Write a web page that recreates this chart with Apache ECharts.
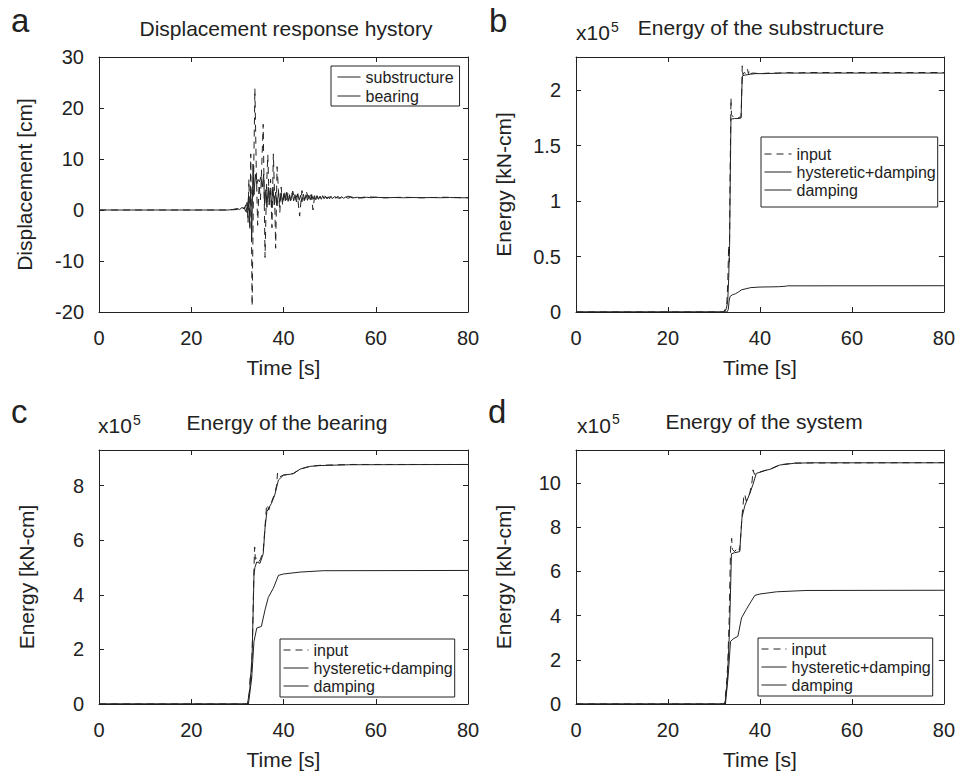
<!DOCTYPE html>
<html><head><meta charset="utf-8">
<script src="https://cdn.jsdelivr.net/npm/echarts@6/dist/echarts.min.js"></script>
<style>html,body{margin:0;padding:0;background:#fff}#c{width:958px;height:776px}</style>
</head><body><div id="c"></div>
<script>
// ---------- DATA (time [s], value) ----------
// Panel a: displacement [cm]
const dispSubstructure = [[0,0],[28,0],[29,0.1],[30,0.3],[30.5,0.1],[31,0.5],[31.5,0.2],[31.8,1.0],[32.1,-0.5],[32.4,2.5],[32.6,-2.5],[32.9,4],[33.1,-5.8],[33.4,9],[33.6,3],[33.9,7],[34.2,5],[34.5,6],[34.8,5.5],[35.1,6.5],[35.4,4.5],[35.7,7],[35.9,1],[36.2,4],[36.4,0.5],[36.7,4.5],[36.9,1.5],[37.2,3.8],[37.4,0.5],[37.7,4.5],[38,1],[38.3,3.5],[38.6,0.8],[38.9,3.5],[39.2,1.5],[39.5,3.4],[39.8,1.5],[40.1,3.2],[40.4,1.8],[40.7,3.5],[41,1.7],[41.3,3],[41.6,1.9],[41.9,3.3],[42.2,1.8],[42.5,3.0],[42.8,1.6],[43.1,3.2],[43.4,1.9],[43.7,2.9],[44,1.6],[44.3,3.1],[44.6,2.0],[44.9,3.0],[45.2,1.9],[45.5,2.9],[45.8,2.0],[46.1,3.0],[46.4,2.1],[46.7,2.8],[47,2.0],[47.3,2.8],[47.6,2.1],[47.9,2.7],[48.2,2.1],[48.5,2.8],[48.8,2.2],[49.1,2.7],[49.4,2.2],[49.7,2.6],[50,2.2],[50.3,2.7],[50.6,2.2],[51,2.6],[51.4,2.3],[51.8,2.7],[52.2,2.3],[52.6,2.6],[53,2.3],[53.5,2.55],[54,2.3],[54.5,2.5],[55,2.35],[56,2.5],[57,2.35],[58,2.5],[59,2.4],[60,2.5],[62,2.4],[64,2.45],[66,2.4],[68,2.45],[70,2.4],[72,2.45],[74,2.4],[76,2.45],[78,2.4],[80,2.4]];
const dispBearing = [[0,0],[28,0],[30,0.1],[31,0.2],[31.5,0.5],[31.8,-0.3],[32.1,1.5],[32.3,-2.5],[32.5,6],[32.7,-4],[32.9,11],[33.2,-18.8],[33.5,5],[33.8,23.8],[34.1,8],[34.4,-3],[34.7,5],[35.0,2],[35.3,9],[35.6,16.8],[36.0,-9.3],[36.3,4],[36.6,10.8],[36.9,1],[37.2,6],[37.5,-3.5],[37.8,11],[38.1,2],[38.3,-7.5],[38.6,8.5],[38.9,4],[39.2,-0.5],[39.5,4.5],[39.8,1.0],[40.2,3.8],[40.6,1.5],[41,3.5],[41.5,1.8],[42,3.7],[42.5,2],[43,3],[43.5,-1.2],[44,3.8],[44.5,1.8],[45,3.5],[45.5,2],[46,3],[46.4,0],[46.8,3.2],[47.5,2.2],[48.5,3],[49.5,2.3],[50.5,2.8],[52,2.3],[54,2.7],[56,2.3],[58,2.6],[62,2.4],[66,2.5],[70,2.4],[75,2.5],[80,2.4]];
// Panel b: substructure energy [x10^5 kN-cm]
const subInput = [[0,0],[32,0],[32.4,0.02],[32.8,0.08],[33.0,0.25],[33.2,0.6],[33.35,0.45],[33.5,1.2],[33.7,1.93],[33.8,1.78],[34.2,1.76],[35,1.75],[35.9,1.76],[36.0,1.9],[36.15,2.22],[36.3,2.14],[36.6,2.16],[37.0,2.15],[37.3,2.19],[37.5,2.15],[37.7,2.18],[37.9,2.15],[38.5,2.155],[40,2.15],[42,2.155],[44,2.155],[46,2.16],[48,2.155],[50,2.16],[80,2.16]];
const subHyst = [[0,0],[32.3,0],[32.7,0.03],[33.0,0.1],[33.2,0.3],[33.4,0.6],[33.55,1.2],[33.7,1.74],[34.5,1.745],[35.5,1.745],[35.9,1.75],[36.05,2.0],[36.2,2.13],[36.6,2.135],[37.2,2.14],[38,2.145],[39,2.15],[41,2.15],[45,2.155],[50,2.155],[80,2.155]];
const subDamp = [[0,0],[32.8,0],[33.1,0.02],[33.3,0.1],[33.5,0.14],[34,0.155],[34.7,0.165],[35.3,0.18],[36,0.2],[37,0.21],[38,0.22],[40,0.225],[44,0.228],[45.5,0.232],[46,0.236],[50,0.236],[80,0.237]];
// Panel c: bearing energy
const brgInput = [[0,0],[32.2,0],[32.6,0.4],[32.8,1.1],[33.0,0.9],[33.3,2.5],[33.6,5.0],[33.75,5.75],[33.9,5.3],[34.2,5.35],[34.6,5.2],[35,5.3],[35.6,5.6],[36.0,6.5],[36.3,7.2],[36.5,7.3],[36.8,7.1],[37.4,7.4],[38.1,7.7],[38.5,8.0],[38.7,8.45],[38.9,8.3],[40,8.38],[42.1,8.44],[43.6,8.6],[45.7,8.7],[47.9,8.74],[54.4,8.77],[80,8.77]];
const brgHyst = [[0,0],[32.2,0],[32.7,0.57],[33.2,1.8],[33.6,4.7],[33.8,5.0],[34.2,5.2],[34.9,5.15],[35.6,5.5],[36.0,6.45],[36.4,7.05],[37.4,7.35],[38.1,7.65],[38.9,8.2],[40.0,8.38],[42.1,8.43],[43.6,8.6],[45.7,8.7],[47.9,8.73],[54.4,8.76],[80,8.77]];
const brgDamp = [[0,0],[32.4,0],[33.1,0.94],[33.6,2.29],[34.2,2.78],[35.2,2.84],[36.0,3.45],[36.7,3.9],[37.8,4.24],[38.9,4.71],[40,4.76],[43.6,4.83],[48.6,4.88],[80,4.89]];
// Panel d: system energy
const sysInput = [[0,0],[32.3,0],[32.7,0.8],[33.0,1.8],[33.3,3.8],[33.6,7.0],[33.85,7.5],[34.0,7.0],[34.5,6.9],[35.2,7.1],[35.6,6.95],[36.1,8.5],[36.5,9.4],[36.7,9.5],[37.0,9.2],[37.8,9.55],[38.3,10.1],[38.5,10.6],[38.8,10.4],[39.2,10.45],[41,10.57],[42.4,10.65],[44.3,10.83],[47.5,10.91],[80,10.93]];
const sysHyst = [[0,0],[32.4,0],[32.9,1.0],[33.4,3.4],[33.8,6.8],[34.5,6.85],[35.6,6.9],[36.1,8.45],[36.7,8.97],[37.8,9.53],[38.5,9.95],[39.2,10.44],[41.0,10.56],[42.4,10.64],[44.3,10.82],[47.5,10.9],[51,10.92],[80,10.92]];
const sysDamp = [[0,0],[32.5,0],[33.1,1.3],[33.6,2.83],[34.2,2.95],[35.2,3.06],[36.0,3.9],[37.0,4.27],[38.1,4.65],[38.9,4.92],[40,4.98],[43.6,5.08],[50,5.14],[80,5.15]];

const panelLetters = ['a','b','c','d'];
const panelTitles = ['Displacement response hystory','Energy of the substructure','Energy of the bearing','Energy of the system'];
const yNames = ['Displacement [cm]','Energy [kN-cm]','Energy [kN-cm]','Energy [kN-cm]'];
const xName = 'Time [s]';
const xRange = [0, 80, 20];             // min, max, interval
const yRanges = [[-20,30,10],[0,2.3,0.5],[0,9.3,2],[0,11.5,2]];
const dispLegend = ['substructure','bearing'];
const energyLegend = ['input','hysteretic+damping','damping'];

// ---------- LAYOUT ----------
const FONT = 'Liberation Sans, Arial, Helvetica, sans-serif';
const INK = '#222';
const grids = [
  {left:99, top:57, width:369, height:255},
  {left:576, top:57, width:370, height:255},
  {left:99, top:450, width:369, height:254},
  {left:576, top:450, width:370, height:254}
];

const xAxes = [], yAxes = [];
grids.forEach((g, i) => {
  const axLine = {show:true, onZero:false, lineStyle:{color:INK, width:1}};
  const tick = {show:true, inside:true, length:5, lineStyle:{color:INK, width:1}};
  xAxes.push({type:'value', gridIndex:i, position:'bottom', min:xRange[0], max:xRange[1], interval:xRange[2],
    axisLine:axLine, axisTick:tick, splitLine:{show:false},
    axisLabel:{color:INK, fontSize:20, fontFamily:FONT, margin:16},
    name:xName, nameLocation:'middle', nameGap:45, nameTextStyle:{color:INK, fontSize:21, fontFamily:FONT}});
  xAxes.push({type:'value', gridIndex:i, position:'top', min:xRange[0], max:xRange[1], interval:xRange[2],
    axisLine:axLine, axisTick:tick, splitLine:{show:false}, axisLabel:{show:false}});
  const yr = yRanges[i];
  yAxes.push({type:'value', gridIndex:i, position:'left', min:yr[0], max:yr[1], interval:yr[2],
    axisLine:axLine, axisTick:tick, splitLine:{show:false},
    axisLabel:{color:INK, fontSize:20, fontFamily:FONT, margin:15, showMaxLabel: (yr[1] % yr[2] === 0)},
    name:yNames[i], nameLocation:'middle', nameGap: i === 0 ? 64 : 62, nameTextStyle:{color:INK, fontSize:21, fontFamily:FONT}});
  yAxes.push({type:'value', gridIndex:i, position:'right', min:yr[0], max:yr[1], interval:yr[2],
    axisLine:axLine, axisTick:tick, splitLine:{show:false}, axisLabel:{show:false}});
});

const DASH = [7,5];
function line(name, data, panel, dashed) {
  return {type:'line', name, data, xAxisIndex:panel*2, yAxisIndex:panel*2,
    symbol:'none', showSymbol:false, animation:false, emphasis:{disabled:true}, silent:true,
    color:INK, itemStyle:{color:INK},
    lineStyle:{color:INK, width:1, type: dashed ? DASH : 'solid'}};
}
const series = [
  line('substructure', dispSubstructure, 0, false),
  line('bearing', dispBearing, 0, true),
  line('input', subInput, 1, true),
  line('hysteretic+damping', subHyst, 1, false),
  line('damping', subDamp, 1, false),
  line('input', brgInput, 2, true),
  line('hysteretic+damping', brgHyst, 2, false),
  line('damping', brgDamp, 2, false),
  line('input', sysInput, 3, true),
  line('hysteretic+damping', sysHyst, 3, false),
  line('damping', sysDamp, 3, false)
];

const legendBase = {orient:'vertical', borderColor:INK, borderWidth:1, borderRadius:0, itemHeight:12,
  selectedMode:false,
  itemStyle:{color:'rgba(0,0,0,0)', borderColor:'rgba(0,0,0,0)', borderWidth:0, opacity:0},
  lineStyle:{color:INK, width:1},
  textStyle:{color:INK, fontSize:16, fontFamily:FONT, lineHeight:16}};
const legends = [
  Object.assign({}, legendBase, {left:331, top:66, padding:[3,6,2,6], itemGap:3, itemWidth:23,
    data:[{name:dispLegend[0]}, {name:dispLegend[1], lineStyle:{type:'solid'}}]}),
  Object.assign({}, legendBase, {left:761, top:137, padding:[9,2,9,3], itemGap:2, itemWidth:27, data:energyLegend.slice()}),
  Object.assign({}, legendBase, {left:280, top:639, padding:[3,2,3,3], itemGap:2, itemWidth:25, data:energyLegend.slice()}),
  Object.assign({}, legendBase, {left:758, top:638, padding:[3,2,3,3], itemGap:2, itemWidth:25, data:energyLegend.slice()})
];

function txt(text, x, y, size, align) {
  return {type:'text', x, y, silent:true,
    style:{text, fontSize:size, fontFamily:FONT, fill:INK, align:align||'left', verticalAlign:'middle'}};
}
const graphic = [
  txt(panelLetters[0], 11, 20.5, 33), txt(panelLetters[1], 489, 20.5, 33),
  txt(panelLetters[2], 11, 411.5, 33), txt(panelLetters[3], 488, 411.5, 33),
  txt(panelTitles[0], 286, 28.6, 21, 'center'), txt(panelTitles[1], 761, 27.6, 21, 'center'),
  txt(panelTitles[2], 287, 422.6, 21, 'center'), txt(panelTitles[3], 764, 421.4, 21, 'center'),
  txt('x10', 576, 32.6, 21), txt('5', 611, 27.1, 14),
  txt('x10', 98, 425.6, 21), txt('5', 133, 420, 14),
  txt('x10', 577, 425.6, 21), txt('5', 612, 419, 14)
];

const chart = echarts.init(document.getElementById('c'), null, {renderer:'svg'});
chart.setOption({
  backgroundColor:'#fff', animation:false,
  grid:grids, xAxis:xAxes, yAxis:yAxes, series, legend:legends, graphic
});
</script></body></html>
